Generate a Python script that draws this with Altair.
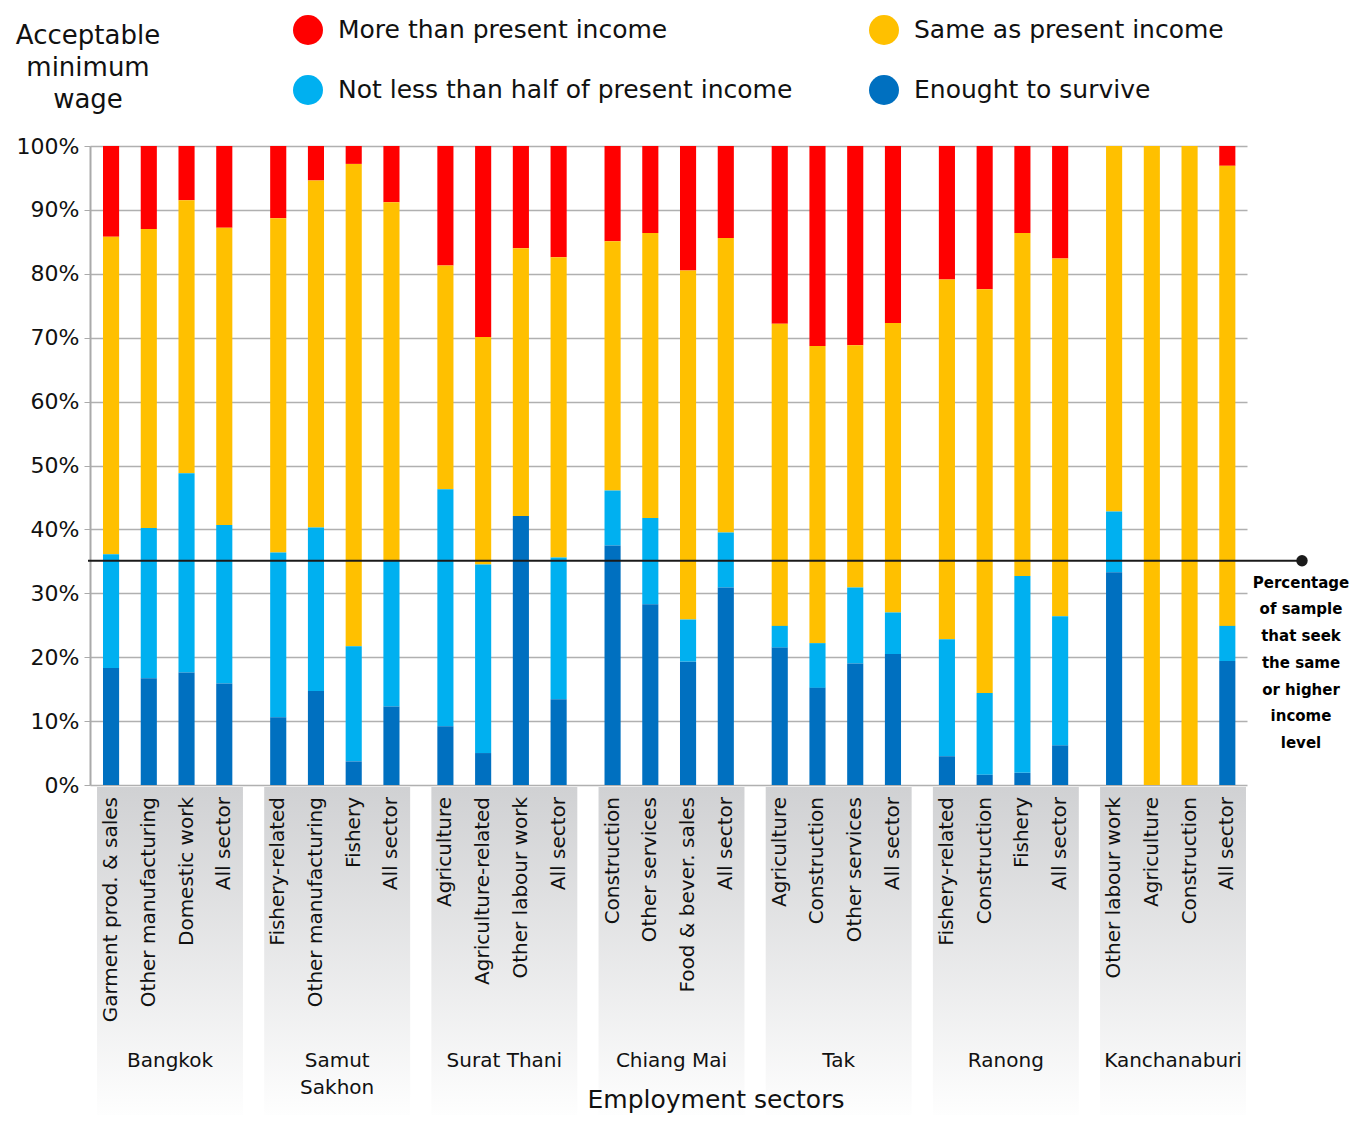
import altair as alt
import pandas as pd

FONT = "DejaVu Sans"

groups = ["Bangkok", "Samut Sakhon", "Surat Thani", "Chiang Mai", "Tak", "Ranong", "Kanchanaburi"]
group_labels = ["Bangkok", "Samut\nSakhon", "Surat Thani", "Chiang Mai", "Tak", "Ranong", "Kanchanaburi"]
sectors = [
    ["Garment prod. & sales", "Other manufacturing", "Domestic work", "All sector"],
    ["Fishery-related", "Other manufacturing", "Fishery", "All sector"],
    ["Agriculture", "Agriculture-related", "Other labour work", "All sector"],
    ["Construction", "Other services", "Food & bever. sales", "All sector"],
    ["Agriculture", "Construction", "Other services", "All sector"],
    ["Fishery-related", "Construction", "Fishery", "All sector"],
    ["Other labour work", "Agriculture", "Construction", "All sector"],
]

series = ["More than present income", "Same as present income",
          "Not less than half of present income", "Enought to survive"]
colors = ["#FF0000", "#FFC000", "#00B0F0", "#0070C0"]

# percentages per bar (28 bars, 4 per province)
enough = [18.3, 16.7, 17.6, 15.9, 10.6, 14.7, 3.7, 12.3, 9.2, 5.0, 42.1, 13.4,
          37.5, 28.3, 19.3, 30.9, 21.5, 15.2, 19.0, 20.5, 4.5, 1.6, 1.9, 6.2,
          33.3, 0.0, 0.0, 19.4]
half = [17.8, 23.5, 31.2, 24.8, 25.8, 25.6, 18.0, 22.8, 37.1, 29.5, 0.0, 22.2,
        8.6, 13.5, 6.6, 8.6, 3.4, 7.0, 11.9, 6.5, 18.3, 12.8, 30.8, 20.2,
        9.5, 0.0, 0.0, 5.5]
same = [49.7, 46.8, 42.7, 46.5, 52.3, 54.3, 75.5, 56.1, 35.0, 35.6, 41.9, 47.0,
        39.0, 44.6, 54.6, 46.1, 47.3, 46.5, 37.9, 45.3, 56.3, 63.2, 53.7, 56.0,
        57.2, 100.0, 100.0, 72.0]
more = [14.2, 13.0, 8.5, 12.8, 11.3, 5.4, 2.8, 8.8, 18.7, 29.9, 16.0, 17.4,
        14.9, 13.6, 19.5, 14.4, 27.8, 31.3, 31.2, 27.7, 20.9, 22.4, 13.6, 17.6,
        0.0, 0.0, 0.0, 3.1]

threshold = 35.1
note_text = "Percentage\nof sample\nthat seek\nthe same\nor higher\nincome\nlevel"
legend_title = "Acceptable\nminimum\nwage"
x_title = "Employment sectors"

# ---- build tables ----
rows, lab_rows = [], []
by_series = {series[0]: more, series[1]: same, series[2]: half, series[3]: enough}
rank = {series[3]: 0, series[2]: 1, series[1]: 2, series[0]: 3}
for gi, g in enumerate(groups):
    for si, s in enumerate(sectors[gi]):
        k = gi * 4 + si
        lab_rows.append({"group": g, "slot": si, "sector": s})
        for name in series:
            rows.append({"group": g, "slot": si, "sector": s, "series": name,
                         "value": by_series[name][k], "rank": rank[name]})
df = pd.DataFrame(rows)
lab_df = pd.DataFrame(lab_rows)
grp_df = pd.DataFrame({"group": groups, "label": group_labels})
thr_df = pd.DataFrame({"value": [threshold], "note": [note_text]})

W, H = 1157, 639
xscale = alt.Scale(paddingInner=0.127, paddingOuter=0.024, align=0.875)
xoff_scale = alt.Scale(paddingInner=0.573, paddingOuter=0.22, align=0.36)

X = alt.X("group:N", sort=groups, scale=xscale, axis=None)
XO = alt.XOffset("slot:O", scale=xoff_scale)

panels = alt.Chart(grp_df).mark_rect(
    fill=alt.Gradient(gradient="linear",
                      stops=[alt.GradientStop(color="#D0D1D3", offset=0),
                             alt.GradientStop(color="#FFFFFF", offset=1)],
                      x1=0, x2=0, y1=0, y2=1)
).encode(x=X, y=alt.value(H + 2), y2=alt.value(H + 338))

bars = alt.Chart(df).mark_bar().encode(
    x=X,
    xOffset=XO,
    y=alt.Y("value:Q", stack="zero", scale=alt.Scale(domain=[0, 100]),
            axis=alt.Axis(values=list(range(0, 101, 10)), labelExpr="datum.value + '%'",
                          title=None, labelFontSize=22, labelFont=FONT, labelColor="#111111",
                          labelPadding=5, tickSize=6, tickColor="#AAAAAA", domainColor="#AAAAAA",
                          domainWidth=2, gridColor="#B0B0B0", gridWidth=1.5)),
    color=alt.Color("series:N", scale=alt.Scale(domain=series, range=colors),
                    legend=alt.Legend(orient="none", legendX=203, legendY=-131,
                                      direction="horizontal", columns=2, title=None,
                                      symbolType="circle", symbolSize=900, symbolStrokeWidth=0,
                                      symbolOpacity=1, labelFontSize=25, labelFont=FONT,
                                      labelColor="#111111", labelOffset=15, labelLimit=700,
                                      rowPadding=30, columnPadding=76)),
    order=alt.Order("rank:Q"),
)

legend_head = alt.Chart(grp_df.head(1)).mark_text(
    align="center", baseline="middle", fontSize=26, font=FONT, color="#111111",
    lineBreak="\n", lineHeight=32
).encode(x=alt.value(-2), y=alt.value(-110), text=alt.value(legend_title))

sector_labels = alt.Chart(lab_df).mark_text(
    angle=270, align="right", baseline="middle", fontSize=20, font=FONT, color="#111111"
).encode(x=X, xOffset=XO, y=alt.value(H + 12), text="sector:N")

group_text = alt.Chart(grp_df).mark_text(
    align="center", baseline="top", fontSize=20, font=FONT, color="#111111",
    lineBreak="\n", lineHeight=27
).encode(x=X, y=alt.value(H + 266), text="label:N")

rule = alt.Chart(thr_df).mark_rule(color="#1A1A1A", strokeWidth=2).encode(
    y="value:Q", x=alt.value(-2), x2=alt.value(1212))
dot = alt.Chart(thr_df).mark_point(filled=True, size=130, color="#1A1A1A", opacity=1).encode(
    y="value:Q", x=alt.value(1212))
note = alt.Chart(thr_df).mark_text(
    align="center", baseline="top", dy=15, fontSize=15, fontWeight="bold", font=FONT,
    color="#000000", lineBreak="\n", lineHeight=26.7
).encode(y="value:Q", x=alt.value(1211), text="note:N")

xtitle = alt.Chart(thr_df).mark_text(
    align="center", baseline="middle", fontSize=25, font=FONT, color="#111111"
).encode(x=alt.value(626), y=alt.value(H + 315), text=alt.value(x_title))

chart = alt.layer(panels, bars, legend_head, sector_labels, group_text, rule, dot, note, xtitle).properties(
    width=W, height=H,
    autosize=alt.AutoSizeParams(type="none"),
    padding={"left": 82, "top": 138, "right": 104, "bottom": 330},
).configure_view(strokeWidth=0)

chart.save("out.html", embed_options={"renderer": "svg", "actions": False})
